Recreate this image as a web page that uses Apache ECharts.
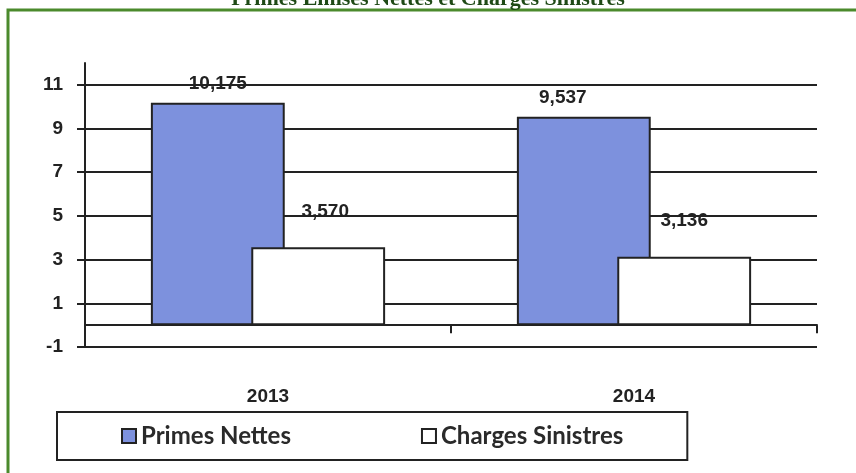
<!DOCTYPE html>
<html>
<head>
<meta charset="utf-8">
<script src="https://cdn.jsdelivr.net/npm/echarts@6/dist/echarts.min.js"></script>
<style>
  html, body { margin: 0; padding: 0; background: #fff; }
  #chart { width: 856px; height: 473px; }
</style>
</head>
<body>
<div id="chart"></div>
<script>
// données
var years = ['2013', '2014'];
var primesNettes = [10.175, 9.537];
var chargesSinistres = [3.570, 3.136];
var yTicks = [-1, 1, 3, 5, 7, 9, 11];

var myChart = echarts.init(document.getElementById('chart'));

function fmt(p) {
  return p.value.toFixed(3).replace('.', ',');
}

// petits decalages des etiquettes, comme sur l'original
var primesLabelOffset = [[0, 0], [-21, 0]];
var chargesLabelOffset = [[7, 0], [0, 0]];

var labelFont = {
  fontFamily: 'Liberation Sans, Arial, sans-serif',
  fontWeight: 'bold',
  fontSize: 19,
  color: '#222'
};

var option = {
  backgroundColor: '#fff',
  animation: false,
  title: {
    text: 'Primes Emises Nettes et Charges Sinistres',
    left: 'center',
    top: -17,
    textStyle: {
      fontFamily: 'Liberation Serif, DejaVu Serif, serif',
      fontWeight: 'bold',
      fontSize: 22,
      color: '#1f4a16'
    }
  },
  graphic: [{
    type: 'rect',
    shape: { x: 8, y: 10, width: 900, height: 500 },
    style: { fill: 'none', stroke: '#4b8a2c', lineWidth: 3 },
    z: -1
  }],
  grid: {
    left: 85,
    right: 39,
    top: 63,
    bottom: 126
  },
  legend: {
    left: 57,
    top: 412,
    padding: [12, 64],
    itemGap: 130,
    itemWidth: 14,
    itemHeight: 14,
    icon: 'rect',
    borderColor: '#222',
    borderWidth: 2,
    textStyle: {
      fontFamily: 'Lato, sans-serif',
      fontWeight: 'bold',
      fontSize: 24,
      color: '#2a2a2a'
    },
    data: ['Primes Nettes', 'Charges Sinistres']
  },
  xAxis: {
    type: 'category',
    data: years,
    axisLine: { onZero: true, lineStyle: { color: '#222', width: 2 } },
    axisTick: { show: true, length: 8, lineStyle: { color: '#222', width: 2 } },
    axisLabel: Object.assign({ margin: 40 }, labelFont)
  },
  yAxis: {
    type: 'value',
    min: -1,
    max: 12,
    interval: 2,
    axisLine: { show: true, lineStyle: { color: '#222', width: 2 } },
    axisTick: { show: true, length: 8, customValues: yTicks, lineStyle: { color: '#222', width: 2 } },
    axisLabel: Object.assign({ customValues: yTicks, margin: 22 }, labelFont),
    splitLine: { show: true, showMaxLine: true, lineStyle: { color: '#222', width: 2 } }
  },
  series: [
    {
      name: 'Primes Nettes',
      type: 'bar',
      barCategoryGap: '36%',
      barGap: '-25%',
      data: primesNettes.map(function (v, i) {
        return { value: v, label: { offset: primesLabelOffset[i] } };
      }),
      itemStyle: { color: '#7d91dd', borderColor: '#222', borderWidth: 2 },
      label: Object.assign({ show: true, position: 'top', distance: 10, formatter: fmt }, labelFont)
    },
    {
      name: 'Charges Sinistres',
      type: 'bar',
      barCategoryGap: '36%',
      barGap: '-25%',
      data: chargesSinistres.map(function (v, i) {
        return { value: v, label: { offset: chargesLabelOffset[i] } };
      }),
      itemStyle: { color: '#fff', borderColor: '#222', borderWidth: 2 },
      label: Object.assign({ show: true, position: 'top', distance: 26, formatter: fmt }, labelFont)
    }
  ]
};

myChart.setOption(option);
window.addEventListener('resize', function () {
  myChart.resize();
});
</script>
</body>
</html>
